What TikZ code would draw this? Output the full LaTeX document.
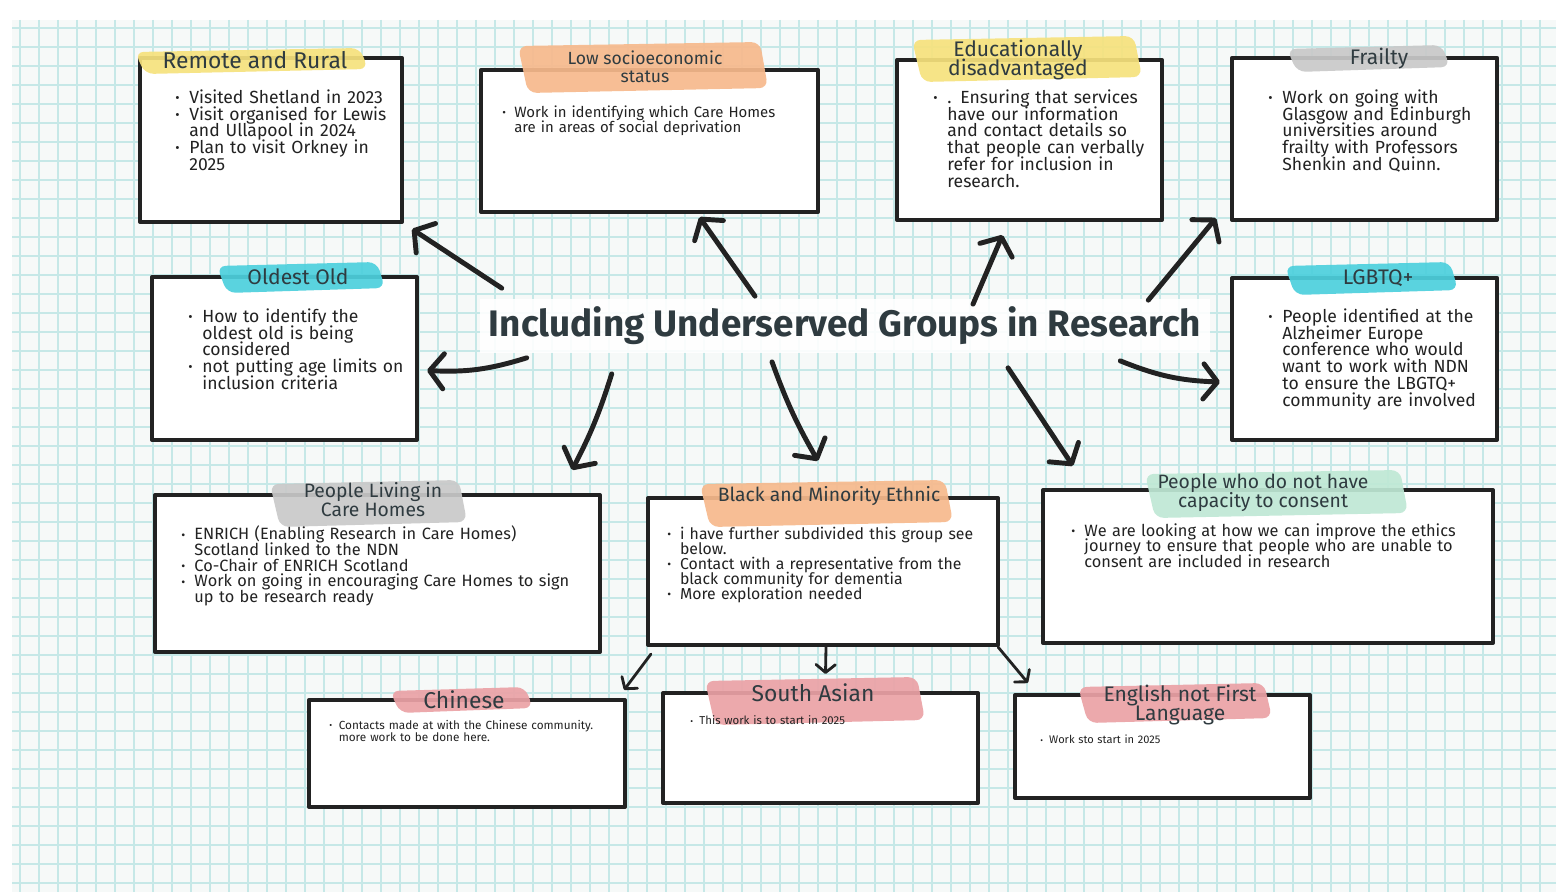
\documentclass[tikz,border=0pt]{standalone}
\usepackage{fontspec}
\setmainfont{Fira Sans}
\usetikzlibrary{arrows.meta,calc}
\definecolor{ink}{HTML}{222222}
\definecolor{titleink}{HTML}{2F3B40}
\definecolor{paper}{HTML}{F6F9F8}
\definecolor{gridline}{HTML}{C6E8E7}
\definecolor{hlyellow}{HTML}{F6E27D}
\definecolor{hlpeach}{HTML}{F7B98C}
\definecolor{hlgrey}{HTML}{C9C9C9}
\definecolor{hlcyan}{HTML}{4DD0DD}
\definecolor{hlmint}{HTML}{BFE8D5}
\definecolor{hlpink}{HTML}{EBA2A6}
\newcommand{\gitem}{\par\noindent\makebox[0.8em][l]{\raisebox{0.1ex}{\scalebox{0.75}{\textbullet}}}}
\newcommand{\gcont}{\par\noindent\hspace*{0.8em}}
\newcommand{\fsz}[2]{\fontsize{#1}{#2}\selectfont\lineskiplimit=-20pt}
\begin{document}
\begin{tikzpicture}[x=0.02cm,y=-0.02cm,
    card/.style={draw=ink,line width=2.4pt,fill=white,line join=round},
    hd/.style={text=titleink,align=center,inner sep=0pt},
    body/.style={anchor=north west,align=left,text width=10cm,inner sep=0pt,text=ink},
    bigarrow/.style={draw=ink,line width=2.8pt,line cap=round,-{Straight Barb[length=8pt,width=20pt,round]}},
    smallarrow/.style={draw=ink,line width=1.6pt,line cap=round,-{Straight Barb[length=4.5pt,width=11pt,round]}}]
  \useasboundingbox (0,0) rectangle (1568,892);
  \fill[white] (0,0) rectangle (1568,892);
  \fill[paper] (12,20) rectangle (1556,892);
  \foreach \x in {20,39,...,1556}
    \draw[gridline,line width=0.7pt] (\x,20) -- (\x,892);
  \foreach \y in {28,47,...,892}
    \draw[gridline,line width=0.7pt] (12,\y) -- (1556,\y);

  \node[card,minimum width=5.24cm,minimum height=3.28cm] (remote) at (271,140) {};
  \node[card,minimum width=6.74cm,minimum height=2.84cm] (lowses) at (649.5,141) {};
  \node[card,minimum width=5.30cm,minimum height=3.20cm] (educ) at (1029.5,140) {};
  \node[card,minimum width=5.30cm,minimum height=3.24cm] (frail) at (1364.5,139) {};
  \node[card,minimum width=5.30cm,minimum height=3.26cm] (oldest) at (284.5,358.5) {};
  \node[card,minimum width=5.30cm,minimum height=3.24cm] (lgbtq) at (1364.5,359) {};
  \node[card,minimum width=8.90cm,minimum height=3.14cm] (carehomes) at (377.5,573.5) {};
  \node[card,minimum width=7.00cm,minimum height=2.94cm] (bme) at (823,571.5) {};
  \node[card,minimum width=9.00cm,minimum height=3.06cm] (consent) at (1268,566.5) {};
  \node[card,minimum width=6.32cm,minimum height=2.14cm] (chinese) at (467,753.5) {};
  \node[card,minimum width=6.30cm,minimum height=2.20cm] (sasian) at (820.5,748) {};
  \node[card,minimum width=5.90cm,minimum height=2.06cm] (english) at (1162.5,746.5) {};

  \foreach \xa/\ya/\xb/\yb/\col in {135/48/368/74/hlyellow, 518/42/768/93/hlpeach,
      912/36/1142/82/hlyellow, 1287/45/1450/72/hlgrey, 217/262/385/293/hlcyan,
      1285/262/1458/295/hlcyan, 270/480/467/527/hlgrey, 700/480/953/527/hlpeach,
      1145/470/1408/518/hlmint, 390/687/533/713/hlpink, 705/677/925/725/hlpink,
      1078/683/1272/723/hlpink}
    \fill[\col,opacity=0.92,rounded corners=5pt] (\xa,\ya+4) -- (\xb-8,\ya) -- (\xb,\yb-5) -- (\xa+10,\yb) -- cycle;

  \node[hd,font=\fsz{13}{15}] (remotehd) at (255,60) {Remote and Rural};
  \node[hd,font=\fsz{10}{10.2}] (loweshd) at (645,67) {Low socioeconomic\\status};
  \node[hd,font=\fsz{12}{11.3}] (educhd) at (1018,60) {Educationally\\disadvantaged};
  \node[hd,font=\fsz{12}{14}] (frailhd) at (1379,59) {Frailty};
  \node[hd,font=\fsz{12}{14}] (oldesthd) at (298,277) {Oldest Old};
  \node[hd,font=\fsz{12}{14}] (lgbtqhd) at (1378,278) {LGBTQ+};
  \node[hd,font=\fsz{11}{10.8}] (carehomeshd) at (373,500) {People Living in\\Care Homes};
  \node[hd,font=\fsz{11}{13}] (bmehd) at (829,496) {Black and Minority Ethnic};
  \node[hd,font=\fsz{11}{10.8}] (consenthd) at (1263,493) {People who do not have\\capacity to consent};
  \node[hd,font=\fsz{13}{15}] (chinesehd) at (464,700) {Chinese};
  \node[hd,font=\fsz{13}{15}] (sasianhd) at (813,693) {South Asian};
  \node[hd,font=\fsz{12}{11.3}] (englishhd) at (1180,705) {English not First\\Language};

  \node[body,font=\fsz{10}{9.6}] (remotetx) at (175,86) {\gitem Visited Shetland in 2023
    \gitem Visit organised for Lewis \gcont and Ullapool in 2024
    \gitem Plan to visit Orkney in \gcont 2025};
  \node[body,font=\fsz{8.5}{8.5}] (lowsestx) at (502,102) {\gitem Work in identifying which Care Homes
    \gcont are in areas of social deprivation};
  \node[body,font=\fsz{10}{9.6}] (eductx) at (933,86) {\gitem . Ensuring that services \gcont have our information
    \gcont and contact details so \gcont that people can verbally \gcont refer for inclusion in \gcont research.};
  \node[body,font=\fsz{10}{9.6}] (frailtx) at (1268,86) {\gitem Work on going with \gcont Glasgow and Edinburgh
    \gcont universities around \gcont frailty with Professors \gcont Shenkin and Quinn.};
  \node[body,font=\fsz{10}{9.6}] (oldesttx) at (188,305) {\gitem How to identify the \gcont oldest old is being
    \gcont considered
    \gitem not putting age limits on \gcont inclusion criteria};
  \node[body,font=\fsz{10}{9.6}] (lgbtqtx) at (1268,305) {\gitem People identified at the \gcont Alzheimer Europe
    \gcont conference who would \gcont want to work with NDN \gcont to ensure the LBGTQ+ \gcont community are involved};
  \node[body,font=\fsz{9.3}{8.9}] (carehomestx) at (181,524) {\gitem ENRICH (Enabling Research in Care Homes)
    \gcont Scotland linked to the NDN
    \gitem Co-Chair of ENRICH Scotland
    \gitem Work on going in encouraging Care Homes to sign \gcont up to be research ready};
  \node[body,font=\fsz{9}{8.5}] (bmetx) at (667,524) {\gitem i have further subdivided this group see \gcont below.
    \gitem Contact with a representative from the \gcont black community for dementia
    \gitem More exploration needed};
  \node[body,font=\fsz{9.3}{9}] (consenttx) at (1071,520) {\gitem We are looking at how we can improve the ethics
    \gcont journey to ensure that people who are unable to \gcont consent are included in research};
  \node[body,font=\fsz{6.7}{6.8}] (chinesetx) at (329,717) {\gitem Contacts made at with the Chinese community.
    \gcont more work to be done here.};
  \node[body,font=\fsz{6.5}{6.5}] (sasiantx) at (690,713) {\gitem This work is to start in 2025};
  \node[body,font=\fsz{6.3}{6.5}] (englishtx) at (1040,732) {\gitem Work sto start in 2025};

  \node[fill=white,fill opacity=0.9,text opacity=1,minimum width=14.6cm,minimum height=1.1cm,
    font=\fsz{21}{24}\bfseries,text=titleink] (hub) at (845,326) {Including Underserved Groups in Research};

  \draw[bigarrow] ($(hub.north west)+(22,-10)$) -- ($(remote.south east)+(8,5)$);
  \draw[bigarrow] ($(hub.north)+(-90,-2)$) -- ($(lowses.south)+(50,3)$);
  \draw[bigarrow] ($(hub.north)+(128,6)$) -- ($(educ.south)+(-27,13)$);
  \draw[bigarrow] ($(hub.north east)+(-62,2)$) -- ($(frail.south west)+(-14,-4)$);
  \draw[bigarrow] ($(hub.south west)+(47,4)$) to[bend left=10] ($(oldest.east)+(8,12)$);
  \draw[bigarrow] ($(hub.south east)+(-90,7)$) to[bend right=10] ($(lgbtq.west)+(-10,23)$);
  \draw[bigarrow] ($(hub.south west)+(132,20)$) to[bend left=5] ($(carehomes.north east)+(-30,-23)$);
  \draw[bigarrow] ($(hub.south)+(-73,8)$) to[bend right=5] ($(bme.north)+(-5,-35)$);
  \draw[bigarrow] ($(hub.south)+(163,14)$) -- ($(consent.north west)+(32,-22)$);
  \draw[smallarrow] ($(bme.south west)+(5,7)$) -- ($(chinese.north east)+(-3,-8)$);
  \draw[smallarrow] ($(bme.south)+(3,0)$) -- ($(sasian.north)+(5,-17)$);
  \draw[smallarrow] ($(bme.south east)+(-2,0)$) -- ($(english.north west)+(15,-10)$);
\end{tikzpicture}
\end{document}
